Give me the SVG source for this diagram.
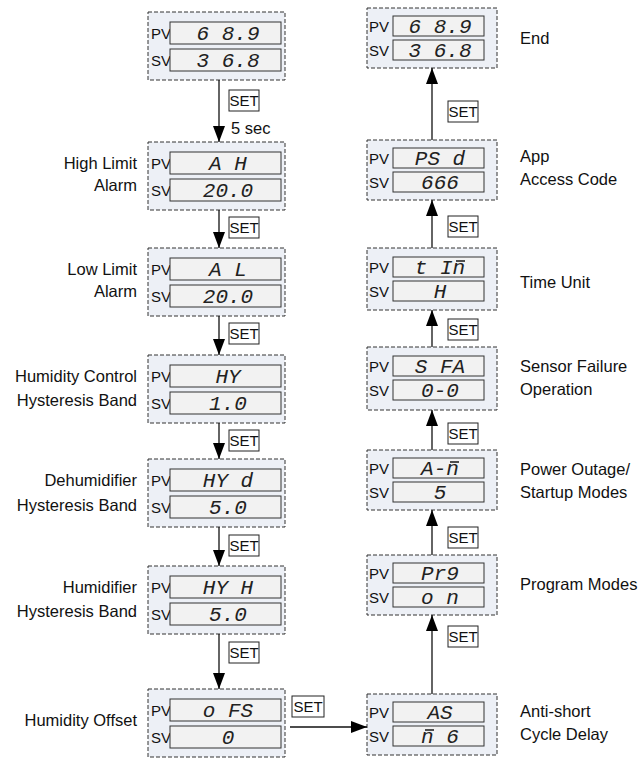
<svg xmlns="http://www.w3.org/2000/svg" width="639" height="758" viewBox="0 0 639 758">
<defs>
<style>
.panel{fill:#edf0f6;stroke:#333;stroke-width:1;stroke-dasharray:4 2}
.disp{fill:#f2f2f2;stroke:#333;stroke-width:1}
.t{font-family:"Liberation Sans",Arial,sans-serif;fill:#111}
.lbl{font-size:16.5px}
.pv{font-size:15px}
.seg{font-family:"Liberation Mono","DejaVu Sans Mono",monospace;font-style:italic;font-size:21px;fill:#222;text-anchor:middle}
.bar{stroke:#222;stroke-width:1.6}
.sb{fill:#fff;stroke:#222;stroke-width:1}
.st{font-size:15px;text-anchor:middle}
.ln{stroke:#111;stroke-width:1.3;fill:none}
</style>
<marker id="ah" viewBox="0 0 16 12" refX="16" refY="6" markerWidth="16" markerHeight="12" markerUnits="userSpaceOnUse" orient="auto">
<path d="M0,0 L16,6 L0,12 z" fill="#000"/>
</marker>
</defs>
<rect width="639" height="758" fill="#fff"/>

<!-- Left column -->
<g id="L1">
<rect class="panel" x="148" y="12" width="137" height="68"/>
<text class="t pv" x="151" y="39">PV</text><text class="t pv" x="151" y="66">SV</text>
<rect class="disp" x="170" y="22" width="111" height="22"/><rect class="disp" x="170" y="49" width="111" height="22"/>
<text class="seg" x="228" y="40">6 8.9</text><text class="seg" x="228" y="67">3 6.8</text>
</g>
<g id="L2">
<rect class="panel" x="148" y="142" width="137" height="68"/>
<text class="t pv" x="151" y="169">PV</text><text class="t pv" x="151" y="196">SV</text>
<rect class="disp" x="170" y="152" width="111" height="22"/><rect class="disp" x="170" y="179" width="111" height="22"/>
<text class="seg" x="228" y="170">A H</text><text class="seg" x="228" y="197">20.0</text>
<text class="t lbl" x="137" y="169" text-anchor="end">High Limit</text><text class="t lbl" x="137" y="191" text-anchor="end">Alarm</text>
</g>
<g id="L3">
<rect class="panel" x="148" y="248" width="137" height="68"/>
<text class="t pv" x="151" y="275">PV</text><text class="t pv" x="151" y="302">SV</text>
<rect class="disp" x="170" y="258" width="111" height="22"/><rect class="disp" x="170" y="285" width="111" height="22"/>
<text class="seg" x="228" y="276">A L</text><text class="seg" x="228" y="303">20.0</text>
<text class="t lbl" x="137" y="275" text-anchor="end">Low Limit</text><text class="t lbl" x="137" y="297" text-anchor="end">Alarm</text>
</g>
<g id="L4">
<rect class="panel" x="148" y="355" width="137" height="68"/>
<text class="t pv" x="151" y="382">PV</text><text class="t pv" x="151" y="409">SV</text>
<rect class="disp" x="170" y="365" width="111" height="22"/><rect class="disp" x="170" y="392" width="111" height="22"/>
<text class="seg" x="228" y="383">HY</text><text class="seg" x="228" y="410">1.0</text>
<text class="t lbl" x="137" y="382" text-anchor="end">Humidity Control</text><text class="t lbl" x="137" y="406" text-anchor="end">Hysteresis Band</text>
</g>
<g id="L5">
<rect class="panel" x="148" y="459" width="137" height="68"/>
<text class="t pv" x="151" y="486">PV</text><text class="t pv" x="151" y="513">SV</text>
<rect class="disp" x="170" y="469" width="111" height="22"/><rect class="disp" x="170" y="496" width="111" height="22"/>
<text class="seg" x="228" y="487">HY d</text><text class="seg" x="228" y="514">5.0</text>
<text class="t lbl" x="137" y="486" text-anchor="end">Dehumidifier</text><text class="t lbl" x="137" y="511" text-anchor="end">Hysteresis Band</text>
</g>
<g id="L6">
<rect class="panel" x="148" y="566" width="137" height="68"/>
<text class="t pv" x="151" y="593">PV</text><text class="t pv" x="151" y="620">SV</text>
<rect class="disp" x="170" y="576" width="111" height="22"/><rect class="disp" x="170" y="603" width="111" height="22"/>
<text class="seg" x="228" y="594">HY H</text><text class="seg" x="228" y="621">5.0</text>
<text class="t lbl" x="137" y="593" text-anchor="end">Humidifier</text><text class="t lbl" x="137" y="617" text-anchor="end">Hysteresis Band</text>
</g>
<g id="L7">
<rect class="panel" x="148" y="689" width="137" height="68"/>
<text class="t pv" x="151" y="716">PV</text><text class="t pv" x="151" y="743">SV</text>
<rect class="disp" x="170" y="699" width="111" height="22"/><rect class="disp" x="170" y="726" width="111" height="22"/>
<text class="seg" x="228" y="717">o FS</text><text class="seg" x="228" y="744">0</text>
<text class="t lbl" x="137" y="726" text-anchor="end">Humidity Offset</text>
</g>

<!-- Right column -->
<g id="R1">
<rect class="panel" x="367" y="8" width="130" height="60"/>
<text class="t pv" x="369" y="32">PV</text><text class="t pv" x="369" y="56">SV</text>
<rect class="disp" x="393" y="16" width="91" height="20"/><rect class="disp" x="393" y="40" width="91" height="20"/>
<text class="seg" x="440" y="33">6 8.9</text><text class="seg" x="440" y="57">3 6.8</text>
<text class="t lbl" x="520" y="44">End</text>
</g>
<g id="R2">
<rect class="panel" x="367" y="140" width="130" height="60"/>
<text class="t pv" x="369" y="164">PV</text><text class="t pv" x="369" y="188">SV</text>
<rect class="disp" x="393" y="148" width="91" height="20"/><rect class="disp" x="393" y="172" width="91" height="20"/>
<text class="seg" x="440" y="165">PS d</text><text class="seg" x="440" y="189">666</text>
<text class="t lbl" x="520" y="162">App</text><text class="t lbl" x="520" y="185">Access Code</text>
</g>
<g id="R3">
<rect class="panel" x="367" y="248" width="130" height="62"/>
<text class="t pv" x="369" y="273">PV</text><text class="t pv" x="369" y="297">SV</text>
<rect class="disp" x="393" y="257" width="91" height="20"/><rect class="disp" x="393" y="281" width="91" height="20"/>
<text class="seg" x="440" y="274">t In</text><line class="bar" x1="456" y1="261" x2="465" y2="261"/>
<text class="seg" x="440" y="298">H</text>
<text class="t lbl" x="520" y="288">Time Unit</text>
</g>
<g id="R4">
<rect class="panel" x="367" y="347" width="130" height="63"/>
<text class="t pv" x="369" y="372">PV</text><text class="t pv" x="369" y="396">SV</text>
<rect class="disp" x="393" y="356" width="91" height="20"/><rect class="disp" x="393" y="380" width="91" height="20"/>
<text class="seg" x="440" y="373">S FA</text><text class="seg" x="440" y="397">0-0</text>
<text class="t lbl" x="520" y="372">Sensor Failure</text><text class="t lbl" x="520" y="395">Operation</text>
</g>
<g id="R5">
<rect class="panel" x="367" y="450" width="130" height="60"/>
<text class="t pv" x="369" y="474">PV</text><text class="t pv" x="369" y="498">SV</text>
<rect class="disp" x="393" y="458" width="91" height="20"/><rect class="disp" x="393" y="482" width="91" height="20"/>
<text class="seg" x="440" y="475">A-n</text><line class="bar" x1="450" y1="462" x2="459" y2="462"/>
<text class="seg" x="440" y="499">5</text>
<text class="t lbl" x="520" y="475">Power Outage/</text><text class="t lbl" x="520" y="498">Startup Modes</text>
</g>
<g id="R6">
<rect class="panel" x="367" y="555" width="130" height="60"/>
<text class="t pv" x="369" y="579">PV</text><text class="t pv" x="369" y="603">SV</text>
<rect class="disp" x="393" y="563" width="91" height="20"/><rect class="disp" x="393" y="587" width="91" height="20"/>
<text class="seg" x="440" y="580">Pr9</text><text class="seg" x="440" y="604">o n</text>
<text class="t lbl" x="520" y="590">Program Modes</text>
</g>
<g id="R7">
<rect class="panel" x="367" y="694" width="130" height="61"/>
<text class="t pv" x="369" y="718">PV</text><text class="t pv" x="369" y="742">SV</text>
<rect class="disp" x="393" y="702" width="91" height="20"/><rect class="disp" x="393" y="726" width="91" height="20"/>
<text class="seg" x="440" y="719">AS</text>
<text class="seg" x="440" y="743">n 6</text><line class="bar" x1="425" y1="730" x2="434" y2="730"/>
<text class="t lbl" x="520" y="717">Anti-short</text><text class="t lbl" x="520" y="740">Cycle Delay</text>
</g>

<!-- Connectors -->
<g id="connectors">
<line class="ln" x1="219" y1="80" x2="219" y2="142" marker-end="url(#ah)"/>
<line class="ln" x1="219" y1="210" x2="219" y2="248" marker-end="url(#ah)"/>
<line class="ln" x1="219" y1="316" x2="219" y2="355" marker-end="url(#ah)"/>
<line class="ln" x1="219" y1="423" x2="219" y2="459" marker-end="url(#ah)"/>
<line class="ln" x1="219" y1="527" x2="219" y2="566" marker-end="url(#ah)"/>
<line class="ln" x1="219" y1="634" x2="219" y2="689" marker-end="url(#ah)"/>
<line class="ln" x1="290" y1="727" x2="367" y2="727" marker-end="url(#ah)"/>
<line class="ln" x1="432" y1="694" x2="432" y2="615" marker-end="url(#ah)"/>
<line class="ln" x1="432" y1="555" x2="432" y2="510" marker-end="url(#ah)"/>
<line class="ln" x1="432" y1="450" x2="432" y2="410" marker-end="url(#ah)"/>
<line class="ln" x1="432" y1="347" x2="432" y2="310" marker-end="url(#ah)"/>
<line class="ln" x1="432" y1="248" x2="432" y2="200" marker-end="url(#ah)"/>
<line class="ln" x1="432" y1="140" x2="432" y2="68" marker-end="url(#ah)"/>
<g id="setlabels">
<rect class="sb" x="229" y="90" width="30" height="21"/><text class="t st" x="244" y="106">SET</text>
<text class="t lbl" x="231" y="134">5 sec</text>
<rect class="sb" x="229" y="217" width="30" height="21"/><text class="t st" x="244" y="233">SET</text>
<rect class="sb" x="229" y="323" width="30" height="21"/><text class="t st" x="244" y="339">SET</text>
<rect class="sb" x="229" y="430" width="30" height="21"/><text class="t st" x="244" y="446">SET</text>
<rect class="sb" x="229" y="535" width="30" height="21"/><text class="t st" x="244" y="551">SET</text>
<rect class="sb" x="229" y="642" width="30" height="21"/><text class="t st" x="244" y="658">SET</text>
<rect class="sb" x="292" y="696" width="32" height="21"/><text class="t st" x="308" y="712">SET</text>
<rect class="sb" x="448" y="101" width="30" height="21"/><text class="t st" x="463" y="117">SET</text>
<rect class="sb" x="448" y="216" width="30" height="21"/><text class="t st" x="463" y="232">SET</text>
<rect class="sb" x="448" y="319" width="30" height="21"/><text class="t st" x="463" y="335">SET</text>
<rect class="sb" x="448" y="423" width="30" height="21"/><text class="t st" x="463" y="439">SET</text>
<rect class="sb" x="448" y="527" width="30" height="21"/><text class="t st" x="463" y="543">SET</text>
<rect class="sb" x="448" y="626" width="30" height="21"/><text class="t st" x="463" y="642">SET</text>
</g>
</g>
</svg>
